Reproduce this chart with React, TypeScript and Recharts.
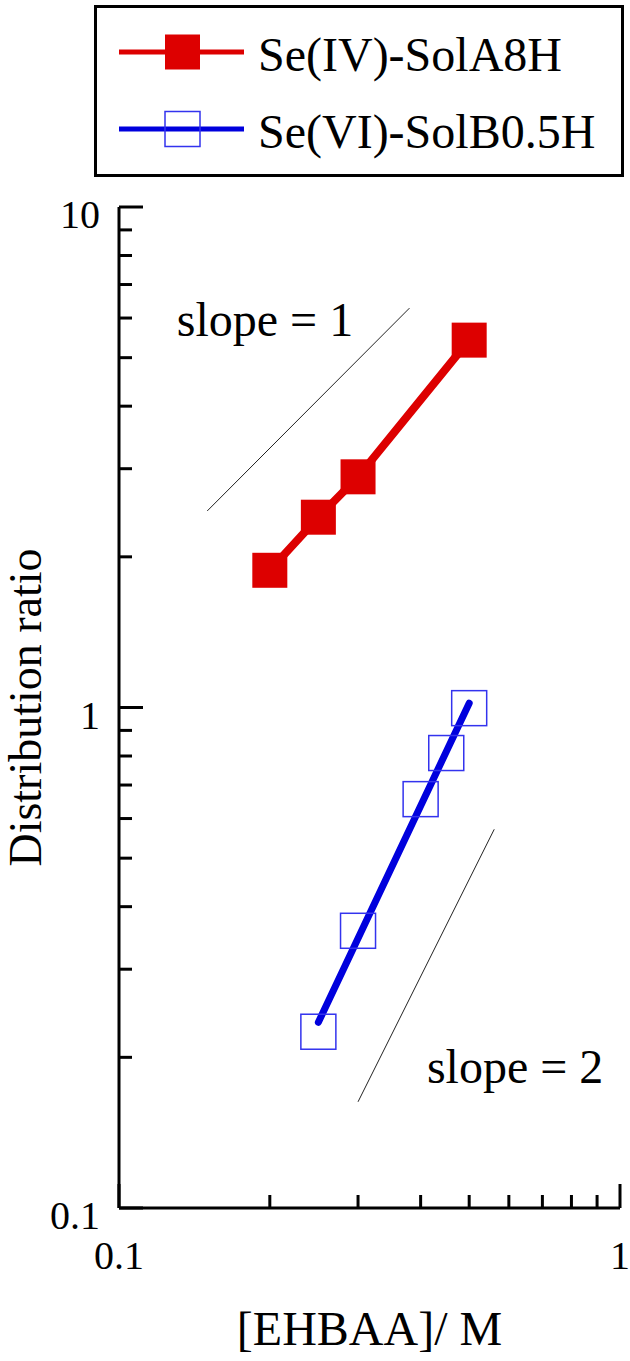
import React from "react";
import {
  ComposedChart,
  Line,
  Scatter,
  XAxis,
  YAxis,
  Legend,
  ReferenceLine,
  ReferenceDot,
} from "recharts";

// Se(IV) extracted with solution A, 8 h
const seIV = [
  { x: 0.2, y: 1.88 },
  { x: 0.25, y: 2.4 },
  { x: 0.3, y: 2.89 },
  { x: 0.5, y: 5.42 },
];

// Se(VI) extracted with solution B, 0.5 h
const seVI = [
  { x: 0.25, y: 0.225 },
  { x: 0.3, y: 0.358 },
  { x: 0.4, y: 0.656 },
  { x: 0.45, y: 0.811 },
  { x: 0.5, y: 0.997 },
];

// least squares fit drawn through the Se(VI) points
const seVIFit = [
  { x: 0.25, y: 0.235 },
  { x: 0.5, y: 1.02 },
];

// guide lines
const slopeOne = [
  { x: 0.15, y: 2.47 },
  { x: 0.38, y: 6.28 },
];
const slopeTwo = [
  { x: 0.3, y: 0.163 },
  { x: 0.561, y: 0.571 },
];

const xTicks = [0.1, 0.2, 0.3, 0.4, 0.5, 0.6, 0.7, 0.8, 0.9, 1];
const yTicks = [
  0.1, 0.2, 0.3, 0.4, 0.5, 0.6, 0.7, 0.8, 0.9, 1, 2, 3, 4, 5, 6, 7, 8, 9, 10,
];
const majorTicks = [0.1, 1, 10];

const legendItems = [
  { name: "Se(IV)-SolA8H", color: "#dd0000", marker: "#dd0000", filled: true },
  { name: "Se(VI)-SolB0.5H", color: "#0000dd", marker: "#3333ee", filled: false },
];

const SERIF = "'Liberation Serif', 'Times New Roman', Times, serif";
const MINOR = 13;
const MAJOR = 24;
const SQ = 35;

const isMajor = (v: number) => majorTicks.includes(v);

function LeftTick(props: any) {
  const { x, y, payload } = props;
  const major = isMajor(payload.value);
  return (
    <g>
      <line x1={x} y1={y} x2={x + (major ? MAJOR : MINOR)} y2={y} stroke="#000" strokeWidth={3} />
      {major && (
        <text x={x - 19} y={y + 21} textAnchor="end" fontSize={40} fontFamily={SERIF} fill="#000">
          {String(payload.value)}
        </text>
      )}
    </g>
  );
}

function RightTick(props: any) {
  const { x, y, payload } = props;
  const major = isMajor(payload.value);
  return <line x1={x} y1={y} x2={x - (major ? MAJOR : MINOR)} y2={y} stroke="#000" strokeWidth={3} />;
}

function BottomTick(props: any) {
  const { x, y, payload } = props;
  const major = isMajor(payload.value);
  return (
    <g>
      <line x1={x} y1={y} x2={x} y2={y - (major ? MAJOR : MINOR)} stroke="#000" strokeWidth={3} />
      {major && (
        <text x={x} y={y + 61} textAnchor="middle" fontSize={40} fontFamily={SERIF} fill="#000">
          {String(payload.value)}
        </text>
      )}
    </g>
  );
}

function TopTick(props: any) {
  const { x, y, payload } = props;
  const major = isMajor(payload.value);
  return <line x1={x} y1={y} x2={x} y2={y + (major ? MAJOR : MINOR)} stroke="#000" strokeWidth={3} />;
}

const filledSquare = (props: any) => (
  <rect
    key={`fs-${props.index}`}
    x={props.cx - SQ / 2}
    y={props.cy - SQ / 2}
    width={SQ}
    height={SQ}
    fill="#dd0000"
    stroke="none"
  />
);

const openSquare = (props: any) => (
  <rect
    x={props.cx - SQ / 2}
    y={props.cy - SQ / 2}
    width={SQ}
    height={SQ}
    fill="none"
    stroke="#3333ee"
    strokeWidth={1.5}
  />
);

const slopeLabel = (text: string) => (props: any) => (
  <text x={props.cx} y={props.cy} fontSize={48} fontFamily={SERIF} fill="#000">
    {text}
  </text>
);

function LegendBox() {
  return (
    <svg width={530} height={172} style={{ display: "block" }}>
      <rect x={1.5} y={1.5} width={527} height={169} fill="#fff" stroke="#000" strokeWidth={3} />
      {legendItems.map((item, i) => {
        const cy = 47 + i * 77;
        return (
          <g key={item.name}>
            <line x1={25} y1={cy} x2={150} y2={cy} stroke={item.color} strokeWidth={5} />
            <rect
              x={88.5 - SQ / 2}
              y={cy - SQ / 2}
              width={SQ}
              height={SQ}
              fill={item.filled ? item.marker : "none"}
              stroke={item.filled ? "none" : item.marker}
              strokeWidth={1.5}
            />
            <text x={164} y={cy + 19} fontSize={48} fontFamily={SERIF} fill="#000">
              {item.name}
            </text>
          </g>
        );
      })}
    </svg>
  );
}

export default function App() {
  return (
    <div style={{ position: "absolute", left: 0, top: 0, background: "#fff" }}>
      <ComposedChart width={630} height={1361} margin={{ top: 207, right: 10, bottom: 0, left: 0 }}>
        <XAxis
          dataKey="x"
          type="number"
          scale="log"
          domain={[0.1, 1]}
          allowDataOverflow
          ticks={xTicks}
          interval={0}
          height={153}
          tickSize={0}
          tickMargin={0}
          tickLine={false}
          axisLine={{ stroke: "#000", strokeWidth: 3 }}
          tick={<BottomTick />}
          label={{
            value: "[EHBAA]/ M",
            position: "insideBottom",
            offset: 16,
            fontSize: 48,
            fontFamily: SERIF,
            fill: "#000",
          }}
        />
        <XAxis
          xAxisId="top"
          orientation="top"
          type="number"
          scale="log"
          domain={[0.1, 1]}
          allowDataOverflow
          ticks={xTicks}
          interval={0}
          height={0}
          tickSize={0}
          tickMargin={0}
          tickLine={false}
          axisLine={{ stroke: "#000", strokeWidth: 3 }}
          tick={<TopTick />}
        />
        <YAxis
          dataKey="y"
          type="number"
          scale="log"
          domain={[0.1, 10]}
          allowDataOverflow
          ticks={yTicks}
          interval={0}
          width={119}
          tickSize={0}
          tickMargin={0}
          tickLine={false}
          axisLine={{ stroke: "#000", strokeWidth: 3 }}
          tick={<LeftTick />}
          label={{
            value: "Distribution ratio",
            angle: -90,
            position: "insideLeft",
            offset: 25,
            fontSize: 46,
            fontFamily: SERIF,
            fill: "#000",
            style: { textAnchor: "middle" },
          }}
        />
        <YAxis
          yAxisId="right"
          orientation="right"
          type="number"
          scale="log"
          domain={[0.1, 10]}
          allowDataOverflow
          ticks={yTicks}
          interval={0}
          width={0}
          tickSize={0}
          tickMargin={0}
          tickLine={false}
          axisLine={{ stroke: "#000", strokeWidth: 3 }}
          tick={<RightTick />}
        />

        <ReferenceLine segment={slopeOne} stroke="#222" strokeWidth={1} />
        <ReferenceLine segment={slopeTwo} stroke="#222" strokeWidth={1} />
        <ReferenceDot x={0.1304} y={5.52} shape={slopeLabel("slope = 1")} />
        <ReferenceDot x={0.4117} y={0.1778} shape={slopeLabel("slope = 2")} />

        <Line
          name="Se(IV)-SolA8H"
          data={seIV}
          dataKey="y"
          type="linear"
          stroke="#dd0000"
          strokeWidth={8}
          dot={filledSquare}
          activeDot={false}
          isAnimationActive={false}
        />
        <Scatter
          name="Se(VI)-SolB0.5H"
          data={seVI}
          dataKey="y"
          shape={openSquare}
          isAnimationActive={false}
        />
        <Line
          data={seVIFit}
          dataKey="y"
          type="linear"
          stroke="#0000dd"
          strokeWidth={7}
          strokeLinecap="round"
          dot={false}
          activeDot={false}
          legendType="none"
          isAnimationActive={false}
        />

        <Legend
          layout="horizontal"
          verticalAlign="middle"
          align="center"
          wrapperStyle={{ left: 94, top: 5, width: 530, height: 172 }}
          content={() => <LegendBox />}
        />
      </ComposedChart>
    </div>
  );
}
